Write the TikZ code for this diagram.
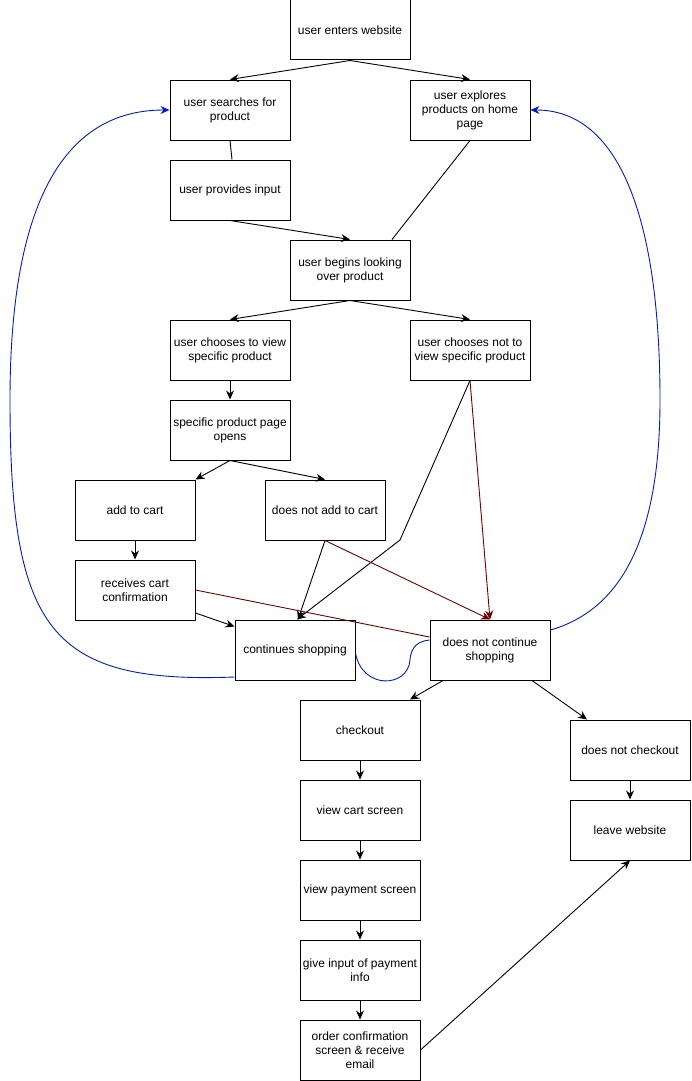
\documentclass[tikz,border=0pt]{standalone}
\usepackage{fontspec}
\setmainfont{Liberation Sans}
\usetikzlibrary{arrows.meta}
\definecolor{lblue}{HTML}{001DBC}
\definecolor{lred}{HTML}{6F0000}
\begin{document}
\begin{tikzpicture}[x=1pt,y=-1pt,
  box/.style={draw, line width=1pt, minimum width=120pt, minimum height=60pt, inner sep=0pt, align=center, font=\fontsize{12}{14}\selectfont},
  ln/.style={line width=0.9pt},
  arr/.style={ln, -{Stealth[length=9pt,width=8pt,inset=3pt]}},
  redln/.style={ln, draw=lred},
  redarr/.style={arr, draw=lred},
  blueln/.style={ln, draw=lblue},
  bluearr/.style={arr, draw=lblue}]
\useasboundingbox (0,0) rectangle (691,1081);
\node[box] (A) at (350,30) {user enters website};
\node[box] (B) at (230,110) {user searches for\\product};
\node[box] (C) at (470,110) {user explores\\products on home\\page};
\node[box] (D) at (230,190) {user provides input};
\node[box] (E) at (350,270) {user begins looking\\over product};
\node[box] (F) at (230,350) {user chooses to view\\specific product};
\node[box] (G) at (470,350) {user chooses not to\\view specific product};
\node[box] (H) at (230,430) {specific product page\\opens};
\node[box] (I) at (135,510) {add to cart};
\node[box] (J) at (325,510) {does not add to cart};
\node[box] (K) at (135,590) {receives cart\\confirmation};
\node[box] (L) at (295,650) {continues shopping};
\node[box] (M) at (490,650) {does not continue\\shopping};
\node[box] (N) at (360,730) {checkout};
\node[box] (O) at (360,810) {view cart screen};
\node[box] (P) at (360,890) {view payment screen};
\node[box] (Q) at (360,970) {give input of payment\\info};
\node[box] (R) at (360,1050) {order confirmation\\screen \& receive\\email};
\node[box] (S) at (630,750) {does not checkout};
\node[box] (T) at (630,830) {leave website};
\coordinate (gbend) at (400,540);

\draw[arr] (A.south) -- (B.north);
\draw[arr] (A.south) -- (C.north);
\draw[ln] (B.south) -- ([xshift=2pt]D.north);
\draw[arr] (D.south) -- (E.north);
\draw[ln] (C.south) -- ([xshift=42pt]E.north);
\draw[arr] (E.south) -- (F.north);
\draw[arr] (E.south) -- (G.north);
\draw[arr] (F.south) -- (H.north);
\draw[arr] (H.south) -- (I.north east);
\draw[arr] (H.south) -- (J.north);
\draw[arr] (I.south) -- (K.north);
\draw[arr] ([yshift=-23pt]K.east) -- ([yshift=-7pt]L.north west);
\draw[arr] (J.south) -- ([xshift=3pt]L.north);
\draw[arr] (G.south) -- (gbend) -- ([xshift=2pt]L.north);
\draw[redarr] (G.south) -- (M.north);
\draw[redarr] (J.south) -- (M.north);
\draw[redln] (K.east) -- ([yshift=13pt]M.west);
\draw[bluearr] ([yshift=-27pt]L.west) .. controls (50,684) and (10,630) .. (10,400)
  .. controls (10,230) and (50,110) .. (B.west);
\draw[bluearr] ([yshift=20pt]M.east) .. controls (620,610) and (660,540) .. (660,400)
  .. controls (660,220) and (620,110) .. (C.east);
\draw[blueln] ([yshift=-3pt]L.east) .. controls (362,690) and (408,688) .. (410,660)
  .. controls (411,645) and (420,641) .. ([yshift=10pt]M.west);
\draw[arr] ([xshift=-47pt]M.south) -- ([xshift=50pt]N.north);
\draw[arr] ([xshift=42pt]M.south) -- ([xshift=-43pt]S.north);
\draw[arr] (N.south) -- (O.north);
\draw[arr] (O.south) -- (P.north);
\draw[arr] (P.south) -- (Q.north);
\draw[arr] (Q.south) -- (R.north);
\draw[arr] (S.south) -- (T.north);
\draw[arr] (R.east) -- (T.south);
\end{tikzpicture}
\end{document}
